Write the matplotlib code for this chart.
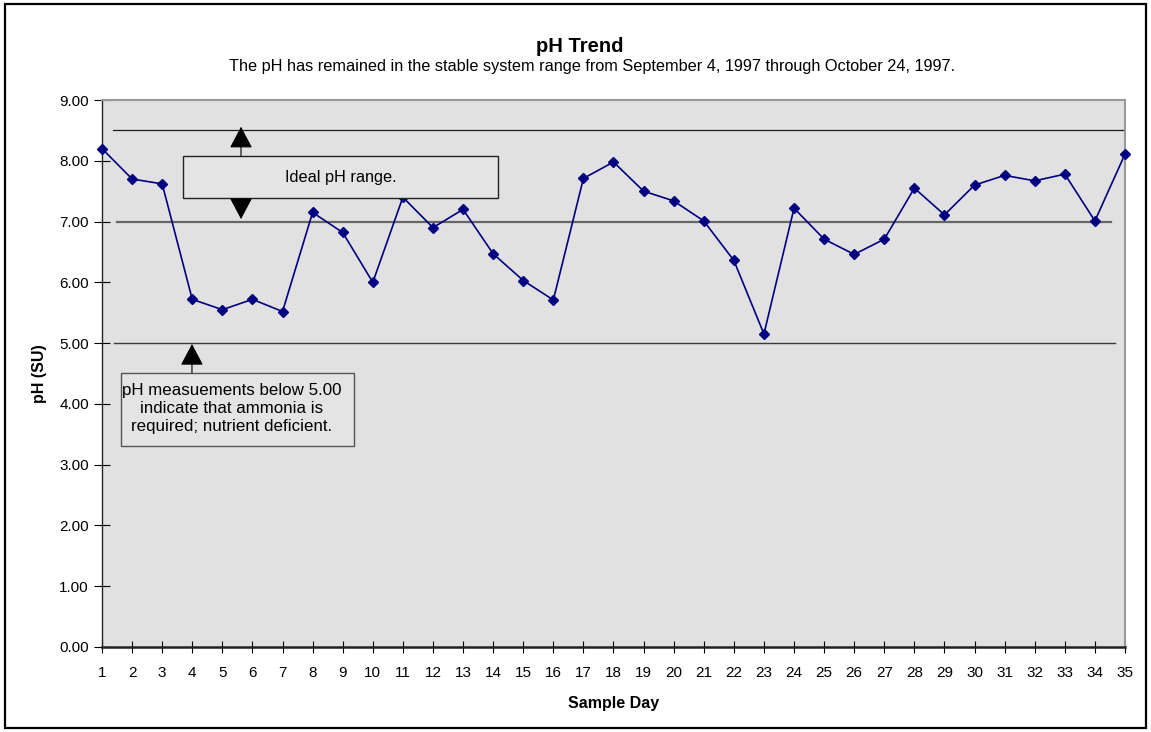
import matplotlib
matplotlib.use("Agg")
import matplotlib.pyplot as plt
from matplotlib.patches import Rectangle, FancyArrowPatch

plt.rcParams['font.family'] = ['Liberation Sans', 'DejaVu Sans']

# Sample days and measured pH (SU)
days = list(range(1, 36))
ph_values = [8.20, 7.70, 7.62, 5.72, 5.55, 5.72, 5.52, 7.15, 6.82, 6.00,
             7.40, 6.90, 7.20, 6.47, 6.03, 5.71, 7.71, 7.98, 7.50, 7.34,
             7.01, 6.36, 5.15, 7.22, 6.71, 6.46, 6.71, 7.55, 7.11, 7.60,
             7.76, 7.67, 7.78, 7.01, 8.11]

# Reference levels
upper_limit = 8.5
ideal_low = 7.0
nutrient_limit = 5.0

y_ticks = [0, 1, 2, 3, 4, 5, 6, 7, 8, 9]
y_tick_labels = [f"{v:.2f}" for v in y_ticks]

W, H = 1151, 732
fig = plt.figure(figsize=(W / 100, H / 100), dpi=100)
fig.patch.set_facecolor('white')

# outer frame
fig.patches.append(Rectangle((5 / W, 4 / H), (1141) / W, (724) / H,
                             transform=fig.transFigure, fill=False,
                             edgecolor='black', linewidth=1.6))

ax = fig.add_axes([102 / W, (H - 647) / H, (1125 - 102) / W, (647 - 100) / H])
ax.set_facecolor('#e1e1e1')

# reference lines
ax.plot([1.36, 34.93], [upper_limit] * 2, color='#1a1a1a', lw=0.9, zorder=2)
ax.plot([1.49, 34.53], [ideal_low] * 2, color='#666666', lw=1.6, zorder=2)
ax.plot([1.40, 34.66], [nutrient_limit] * 2, color='#3a3a3a', lw=1.0, zorder=2)

# pH series
ax.plot(days, ph_values, color='#000080', lw=1.2, marker='D', markersize=5.5,
        markerfacecolor='#000080', markeredgecolor='#000080', zorder=5,
        clip_on=False)

ax.set_xlim(1, 35)
ax.set_ylim(0, 9)
ax.set_xticks(days)
ax.set_xticklabels([str(d) for d in days], fontsize=11)
ax.set_yticks(y_ticks)
ax.set_yticklabels(y_tick_labels, fontsize=11)
ax.tick_params(axis='x', direction='inout', length=8, width=0.8, pad=10)
ax.tick_params(axis='y', direction='inout', length=11, width=0.8, pad=4)

for side in ['top', 'right']:
    ax.spines[side].set_color('#999999')
    ax.spines[side].set_linewidth(1.5)
ax.spines['left'].set_color('#222222')
ax.spines['left'].set_linewidth(1.0)
ax.spines['bottom'].set_color('#222222')
ax.spines['bottom'].set_linewidth(1.8)

ax.set_xlabel('Sample Day', fontsize=11.5, fontweight='bold', labelpad=11)
ax.set_ylabel('pH (SU)', fontsize=11.5, fontweight='bold')
ax.yaxis.set_label_coords(-0.0535, 0.5)

fig.text(580 / W, 1 - 46 / H, 'pH Trend', ha='center', va='center',
         fontsize=14.5, fontweight='bold')
fig.text(592 / W, 1 - 67 / H,
         'The pH has remained in the stable system range from September 4, 1997 through October 24, 1997.',
         ha='center', va='center', fontsize=11.7)

# "Ideal pH range." callout
ax.add_patch(Rectangle((3.69, 7.38), 14.16 - 3.69, 8.08 - 7.38,
                       facecolor='#e4e4e4', edgecolor='#222222', lw=1.0, zorder=6))
ax.text((3.69 + 14.16) / 2, (7.38 + 8.08) / 2, 'Ideal pH range.',
        ha='center', va='center', fontsize=11.7, zorder=7)

arrow_kw = dict(arrowstyle='-|>,head_length=0.68,head_width=0.36',
                mutation_scale=20, color='black', lw=0.8, zorder=6,
                shrinkA=0, shrinkB=0)
ax.add_patch(FancyArrowPatch((5.62, 8.08), (5.62, 8.56), **arrow_kw))
ax.add_patch(FancyArrowPatch((5.62, 7.38), (5.62, 7.04), **arrow_kw))

# nutrient deficiency callout
ax.add_patch(Rectangle((1.62, 3.31), 9.38 - 1.62, 4.51 - 3.31,
                       facecolor='#e4e4e4', edgecolor='#555555', lw=1.0, zorder=6))
ax.text((1.62 + 9.38) / 2 - 0.2, (3.31 + 4.51) / 2 + 0.01,
        'pH measuements below 5.00\nindicate that ammonia is\nrequired; nutrient deficient.',
        ha='center', va='center', fontsize=12.2, linespacing=1.25, zorder=7)
ax.add_patch(FancyArrowPatch((3.99, 4.51), (3.99, 4.985), **arrow_kw))

fig.savefig('out.png', dpi=100)
